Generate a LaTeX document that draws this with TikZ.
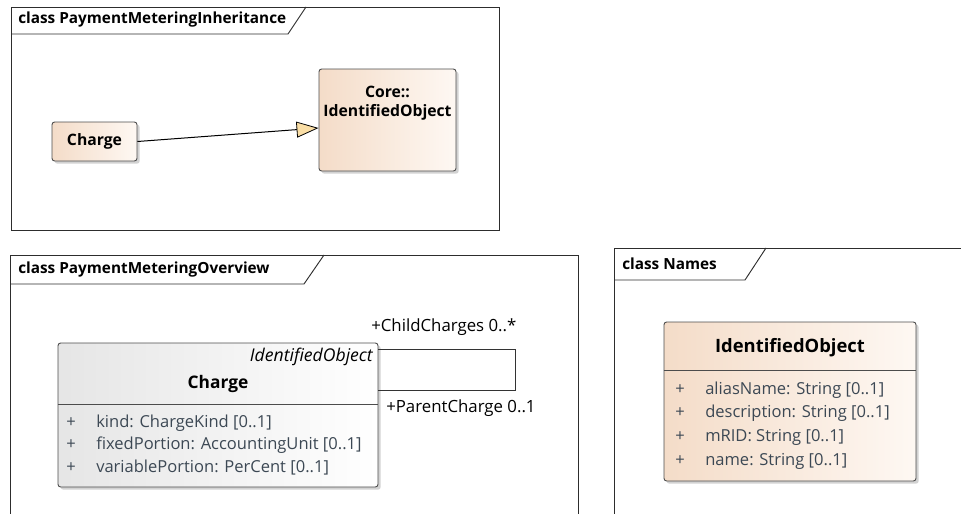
\documentclass[tikz,border=0pt]{standalone}
\usepackage{fontspec}
\setmainfont{Open Sans}
\usetikzlibrary{arrows.meta,shadows}

\definecolor{peachdark}{RGB}{244,220,200}
\definecolor{peachlight}{RGB}{254,248,243}
\definecolor{attrcol}{RGB}{60,72,84}
\definecolor{framecol}{RGB}{45,45,45}
\definecolor{genfill}{RGB}{250,222,165}

\tikzset{
    frameline/.style={draw=framecol, line width=0.7pt},
    classbox/.style={draw=black!70, line width=0.7pt, rounded corners=2pt, inner sep=0pt,
        left color=peachdark, right color=peachlight,
        drop shadow={shadow xshift=2pt, shadow yshift=-2pt, fill=black!35}},
    greybox/.style={classbox, left color=black!10, right color=white},
    headtext/.style={font=\bfseries\fontsize{11.5}{13}\selectfont, anchor=west, inner sep=0pt},
    nametext/.style={font=\bfseries\fontsize{11.8}{14.3}\selectfont, align=center, inner sep=0pt},
    attrtext/.style={font=\fontsize{12.4}{14}\selectfont, text=attrcol, anchor=west, inner sep=0pt},
    roletext/.style={font=\fontsize{12.6}{14}\selectfont, anchor=west, inner sep=0pt},
}

\begin{document}
\begin{tikzpicture}[x=0.75pt, y=-0.75pt]
    \useasboundingbox (0,0) rectangle (961,514);

    % PaymentMeteringInheritance
    \draw[frameline] (11,7) rectangle (499,230);
    \draw[frameline] (11,34) -- (288,34) -- (306,7);
    \node[headtext] (inhHead) at (18,20) {class PaymentMeteringInheritance};

    \node[classbox, minimum width=63.75pt, minimum height=29.25pt] (chargeA) at (94.5,141.5) {};
    \node[nametext] (chargeAName) at (chargeA.center) {Charge};
    \node[classbox, minimum width=102.75pt, minimum height=76.5pt] (coreObj) at (387.5,120) {};
    \node[nametext] (coreObjName) at (387.5,103.5) {Core::\\IdentifiedObject};
    \draw[draw=black, line width=0.75pt, -{Triangle[length=16.5pt, width=12pt, fill=genfill, line width=0.6pt]}]
        (chargeA.east) -- ([yshift=-6pt]coreObj.west);

    % PaymentMeteringOverview
    \draw[frameline] (10,514) -- (10,255) -- (578,255) -- (578,514);
    \draw[frameline] (10,284) -- (304,284) -- (324,255);
    \node[headtext] (ovwHead) at (18,270) {class PaymentMeteringOverview};

    \node[greybox, minimum width=240pt, minimum height=108pt] (chargeB) at (218,415) {};
    \node[font=\itshape\fontsize{13.2}{15}\selectfont, anchor=east, inner sep=0pt] (chargeBStereo) at (373,357) {IdentifiedObject};
    \node[nametext, font=\bfseries\fontsize{13}{15}\selectfont] (chargeBName) at (218,384) {Charge};
    \coordinate (chargeBSep) at (0,404);
    \draw[black!70, line width=0.7pt] (chargeB.west |- chargeBSep) -- (chargeB.east |- chargeBSep);
    \node[attrtext] (kindPlus) at (66,423) {+};
    \node[attrtext] (kindAttr) at (96,423) {kind: ChargeKind [0..1]};
    \node[attrtext] (fixedPlus) at (66,445) {+};
    \node[attrtext] (fixedAttr) at (96,445) {fixedPortion: AccountingUnit [0..1]};
    \node[attrtext] (varPlus) at (66,468) {+};
    \node[attrtext] (varAttr) at (96,468) {variablePortion: PerCent [0..1]};

    \coordinate (loopTop) at (515,349);
    \coordinate (loopBot) at (515,390);
    \draw[draw=black!80, line width=0.7pt] (chargeB.east |- loopTop) -- (loopTop) -- (loopBot) -- (chargeB.east |- loopBot);
    \node[roletext] (childRole) at (371,327) {+ChildCharges 0..*};
    \node[roletext] (parentRole) at (386,408) {+ParentCharge 0..1};

    % Names
    \draw[frameline] (614,514) -- (614,248) -- (961,248);
    \draw[frameline] (614,280) -- (745,280) -- (766,248);
    \node[headtext] (namesHead) at (622,264) {class Names};

    \node[classbox, minimum width=189pt, minimum height=119.25pt] (identObj) at (790,401.5) {};
    \node[nametext, font=\bfseries\fontsize{13.8}{16}\selectfont] (identObjName) at (790,348) {IdentifiedObject};
    \coordinate (identObjSep) at (0,370);
    \draw[black!70, line width=0.7pt] (identObj.west |- identObjSep) -- (identObj.east |- identObjSep);
    \node[attrtext] (aliasPlus) at (675,390) {+};
    \node[attrtext] (aliasAttr) at (705,390) {aliasName: String [0..1]};
    \node[attrtext] (descPlus) at (675,413) {+};
    \node[attrtext] (descAttr) at (705,413) {description: String [0..1]};
    \node[attrtext] (mridPlus) at (675,437) {+};
    \node[attrtext] (mridAttr) at (705,437) {mRID: String [0..1]};
    \node[attrtext] (namePlus) at (675,461) {+};
    \node[attrtext] (nameAttr) at (705,461) {name: String [0..1]};
\end{tikzpicture}
\end{document}
